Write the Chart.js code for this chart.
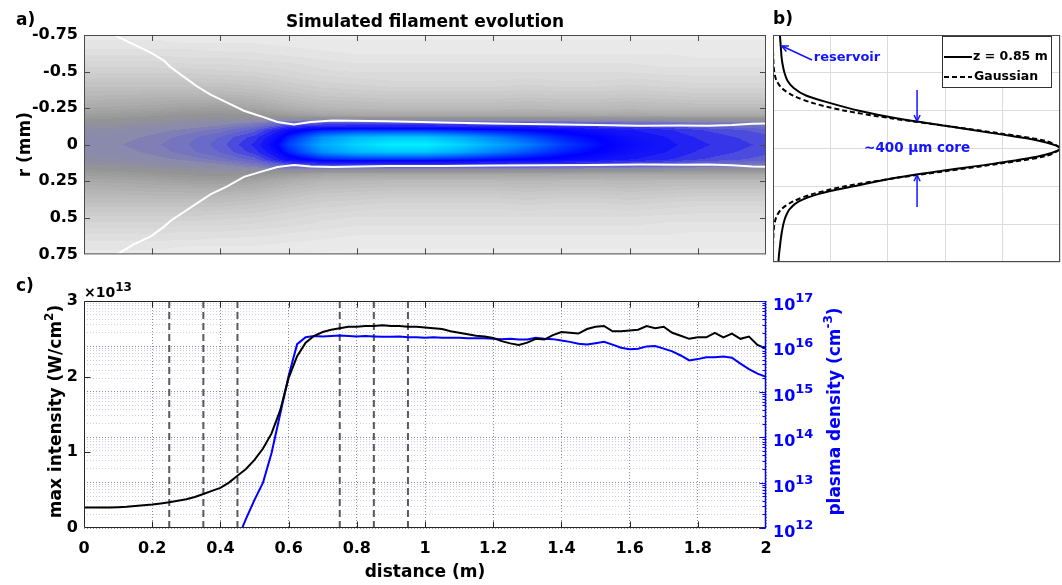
<!DOCTYPE html>
<html>
<head>
<meta charset="utf-8">
<title>Simulated filament evolution</title>
<script src="https://cdn.jsdelivr.net/npm/chart.js@4.4.1/dist/chart.umd.min.js"></script>
<style>
  html, body { margin: 0; padding: 0; background: #fff; }
  #wrap { position: relative; width: 1062px; height: 585px; overflow: hidden; }
  #wrap canvas { position: absolute; }
</style>
</head>
<body>
<div id="wrap">
  <canvas id="mapChart" width="770" height="270" style="left:0px;top:0px"></canvas>
  <canvas id="profileChart" width="292" height="270" style="left:770px;top:0px"></canvas>
  <canvas id="axisChart" width="1062" height="315" style="left:0px;top:270px"></canvas>
</div>
<script>
const FONT = "'DejaVu Sans', sans-serif";

// ---------- a) fluence map: rows are |r| (mm), columns are z (m) ----------
const mapZ = [0, 0.1, 0.2, 0.3, 0.4, 0.5, 0.6, 0.7, 0.8, 0.9, 1.0, 1.1, 1.2, 1.3, 1.4, 1.5, 1.6, 1.7, 1.8, 1.9, 2.0];
const mapR = [0, 0.05, 0.1, 0.15, 0.2, 0.25, 0.3, 0.35, 0.4, 0.45, 0.5, 0.55, 0.6, 0.65, 0.7, 0.75];
const mapLevel = [
  [0.60, 0.61, 0.63, 0.66, 0.70, 0.77, 0.88, 0.95, 0.98, 1.00, 1.00, 0.98, 0.95, 0.92, 0.88, 0.85, 0.82, 0.80, 0.77, 0.75, 0.73],
  [0.59, 0.60, 0.62, 0.65, 0.69, 0.75, 0.86, 0.93, 0.96, 0.97, 0.97, 0.95, 0.92, 0.89, 0.86, 0.84, 0.81, 0.79, 0.76, 0.74, 0.72],
  [0.57, 0.58, 0.60, 0.62, 0.65, 0.70, 0.82, 0.86, 0.87, 0.87, 0.87, 0.86, 0.85, 0.84, 0.83, 0.81, 0.79, 0.77, 0.74, 0.72, 0.70],
  [0.52, 0.53, 0.55, 0.57, 0.59, 0.62, 0.68, 0.70, 0.70, 0.70, 0.70, 0.70, 0.70, 0.70, 0.69, 0.68, 0.67, 0.66, 0.64, 0.63, 0.62],
  [0.45, 0.46, 0.48, 0.50, 0.51, 0.50, 0.46, 0.42, 0.41, 0.41, 0.41, 0.41, 0.41, 0.41, 0.41, 0.40, 0.40, 0.40, 0.40, 0.40, 0.40],
  [0.39, 0.40, 0.41, 0.43, 0.44, 0.41, 0.36, 0.32, 0.31, 0.30, 0.30, 0.30, 0.30, 0.31, 0.30, 0.30, 0.31, 0.30, 0.30, 0.30, 0.30],
  [0.34, 0.35, 0.36, 0.37, 0.37, 0.35, 0.30, 0.27, 0.26, 0.25, 0.25, 0.25, 0.25, 0.26, 0.25, 0.25, 0.26, 0.25, 0.24, 0.24, 0.24],
  [0.30, 0.30, 0.31, 0.31, 0.31, 0.29, 0.25, 0.22, 0.21, 0.20, 0.20, 0.20, 0.20, 0.21, 0.20, 0.20, 0.21, 0.20, 0.19, 0.19, 0.19],
  [0.26, 0.26, 0.26, 0.26, 0.26, 0.24, 0.21, 0.18, 0.17, 0.16, 0.16, 0.16, 0.16, 0.17, 0.16, 0.16, 0.17, 0.16, 0.15, 0.15, 0.15],
  [0.22, 0.22, 0.22, 0.22, 0.21, 0.20, 0.17, 0.15, 0.14, 0.13, 0.13, 0.13, 0.13, 0.14, 0.13, 0.13, 0.14, 0.13, 0.12, 0.12, 0.12],
  [0.18, 0.18, 0.18, 0.18, 0.17, 0.16, 0.14, 0.12, 0.11, 0.11, 0.11, 0.11, 0.11, 0.11, 0.11, 0.11, 0.11, 0.10, 0.10, 0.10, 0.10],
  [0.15, 0.15, 0.15, 0.14, 0.14, 0.13, 0.12, 0.10, 0.09, 0.09, 0.09, 0.09, 0.09, 0.09, 0.09, 0.09, 0.09, 0.08, 0.08, 0.08, 0.08],
  [0.12, 0.12, 0.12, 0.11, 0.11, 0.10, 0.09, 0.08, 0.07, 0.07, 0.07, 0.07, 0.07, 0.07, 0.07, 0.07, 0.07, 0.07, 0.06, 0.06, 0.06],
  [0.09, 0.09, 0.09, 0.09, 0.08, 0.08, 0.07, 0.06, 0.05, 0.05, 0.05, 0.05, 0.05, 0.05, 0.05, 0.05, 0.05, 0.05, 0.05, 0.05, 0.05],
  [0.07, 0.07, 0.07, 0.06, 0.06, 0.06, 0.05, 0.05, 0.04, 0.04, 0.04, 0.04, 0.04, 0.04, 0.04, 0.04, 0.04, 0.04, 0.04, 0.04, 0.04],
  [0.05, 0.05, 0.05, 0.05, 0.04, 0.04, 0.04, 0.03, 0.03, 0.03, 0.03, 0.03, 0.03, 0.03, 0.03, 0.03, 0.03, 0.03, 0.03, 0.03, 0.03]
];

// beam edge (white contour)
const edgeZ = [0.07, 0.098, 0.147, 0.196, 0.235, 0.254, 0.293, 0.332, 0.371, 0.42, 0.469, 0.518, 0.567, 0.616, 0.665, 0.73, 0.89, 1.05, 1.2, 1.35, 1.5, 1.63, 1.75, 1.83, 1.9, 1.96, 2.0];
const edgeTopR = [-0.79, -0.739, -0.684, -0.629, -0.574, -0.53, -0.464, -0.398, -0.343, -0.287, -0.232, -0.195, -0.155, -0.138, -0.155, -0.166, -0.16, -0.152, -0.145, -0.14, -0.135, -0.129, -0.132, -0.13, -0.135, -0.144, -0.145];
const edgeBottomR = [0.79, 0.748, 0.68, 0.627, 0.56, 0.52, 0.46, 0.4, 0.34, 0.285, 0.22, 0.186, 0.153, 0.138, 0.149, 0.153, 0.145, 0.145, 0.143, 0.14, 0.138, 0.135, 0.137, 0.135, 0.14, 0.149, 0.15];

const rTicks = [-0.75, -0.5, -0.25, 0, 0.25, 0.5, 0.75];
const distanceTicks = [0, 0.2, 0.4, 0.6, 0.8, 1, 1.2, 1.4, 1.6, 1.8, 2];

// ---------- b) radial profile at z = 0.85 m ----------
const profileR = [-0.75, -0.7, -0.65, -0.6, -0.55, -0.5, -0.45, -0.4, -0.35, -0.3, -0.25, -0.2, -0.15, -0.1, -0.05, 0,
                  0.05, 0.1, 0.15, 0.2, 0.25, 0.3, 0.35, 0.4, 0.45, 0.5, 0.55, 0.6, 0.65, 0.7, 0.75];
const profileSim = [0.024, 0.026, 0.028, 0.03, 0.034, 0.04, 0.05, 0.072, 0.115, 0.2, 0.3, 0.43, 0.6, 0.77, 0.93, 1.0,
                    0.93, 0.77, 0.58, 0.41, 0.28, 0.16, 0.09, 0.058, 0.044, 0.036, 0.031, 0.027, 0.024, 0.021, 0.019];
const profileGauss = [0, 0, 0, 0.001, 0.002, 0.005, 0.012, 0.03, 0.07, 0.14, 0.25, 0.41, 0.6, 0.79, 0.95, 1.0,
                      0.95, 0.79, 0.6, 0.41, 0.25, 0.14, 0.07, 0.03, 0.012, 0.005, 0.002, 0.001, 0, 0, 0];
const coreEdgeR = [-0.18, 0.175];

// ---------- c) peak intensity and plasma density along z ----------
const distance = [
  0, 0.025, 0.05, 0.075, 0.1, 0.125, 0.15, 0.175, 0.2, 0.225, 0.25, 0.275, 0.3, 0.325, 0.35, 0.375, 0.4, 0.425, 0.45, 0.475,
  0.5, 0.525, 0.55, 0.575, 0.6, 0.625, 0.65, 0.675, 0.7, 0.725, 0.75, 0.775, 0.8, 0.825, 0.85, 0.875, 0.9, 0.925, 0.95, 0.975,
  1, 1.025, 1.05, 1.075, 1.1, 1.125, 1.15, 1.175, 1.2, 1.225, 1.25, 1.275, 1.3, 1.325, 1.35, 1.375, 1.4, 1.425, 1.45, 1.475,
  1.5, 1.525, 1.55, 1.575, 1.6, 1.625, 1.65, 1.675, 1.7, 1.725, 1.75, 1.775, 1.8, 1.825, 1.85, 1.875, 1.9, 1.925, 1.95, 1.975, 2
];
// units of 1e13 W/cm^2
const maxIntensity = [
  0.27, 0.27, 0.27, 0.27, 0.275, 0.28, 0.29, 0.30, 0.31, 0.325, 0.34, 0.36, 0.38, 0.41, 0.45, 0.49, 0.53, 0.60, 0.69, 0.78,
  0.90, 1.05, 1.25, 1.55, 1.98, 2.27, 2.45, 2.54, 2.59, 2.62, 2.64, 2.66, 2.66, 2.67, 2.67, 2.68, 2.67, 2.67, 2.66, 2.66,
  2.65, 2.64, 2.63, 2.60, 2.58, 2.56, 2.54, 2.53, 2.51, 2.47, 2.44, 2.42, 2.45, 2.50, 2.49, 2.55, 2.59, 2.58, 2.57, 2.63,
  2.66, 2.67, 2.60, 2.60, 2.61, 2.62, 2.67, 2.64, 2.66, 2.58, 2.54, 2.50, 2.52, 2.52, 2.58, 2.52, 2.57, 2.50, 2.53, 2.42, 2.37
];
// log10 of density in cm^-3
const densityExp = [
  null, null, null, null, null, null, null, null, null, null, null, null, null, null, null, null, null, null, 11.75, 12.2,
  12.62, 13.0, 13.65, 14.5, 15.35, 16.05, 16.2, 16.23, 16.22, 16.23, 16.24, 16.23, 16.22, 16.23, 16.22, 16.21, 16.21, 16.22, 16.2, 16.2,
  16.19, 16.2, 16.19, 16.19, 16.19, 16.18, 16.18, 16.18, 16.17, 16.16, 16.17, 16.15, 16.15, 16.19, 16.17, 16.16, 16.13, 16.1, 16.06, 16.04,
  16.07, 16.1, 16.04, 15.97, 15.94, 15.95, 16.0, 16.01, 15.95, 15.89, 15.8, 15.69, 15.72, 15.76, 15.76, 15.78, 15.75, 15.62, 15.5, 15.4, 15.33
];
const markerZ = [0.25, 0.35, 0.45, 0.75, 0.85, 0.95];
const intensityTicks = [0, 1, 2, 3];
const densityDecades = [12, 13, 14, 15, 16, 17];

// colour scale of the map: level -> rgb
const levelStops = [
  [0.00, 242, 242, 242],
  [0.50, 148, 148, 148],
  [0.60, 138, 138, 172],
  [0.70, 95, 95, 210],
  [0.78, 30, 30, 245],
  [0.84, 0, 0, 255],
  [0.92, 0, 130, 255],
  [1.00, 0, 240, 255]
];

Chart.defaults.font.family = FONT;
Chart.defaults.font.weight = "bold";
Chart.defaults.color = "#000";
Chart.defaults.animation = false;
Chart.defaults.plugins.legend.display = false;
Chart.defaults.plugins.tooltip.enabled = false;

function bracket(arr, v) {
  const n = arr.length - 1;
  if (v <= arr[0]) return [0, 0];
  if (v >= arr[n]) return [n - 1, 1];
  let i = 0;
  while (arr[i + 1] < v) i++;
  return [i, (v - arr[i]) / (arr[i + 1] - arr[i])];
}

function sampleLevel(z, r) {
  const [i, fz] = bracket(mapZ, z);
  const [j, fr] = bracket(mapR, r);
  const a = mapLevel[j][i] * (1 - fz) + mapLevel[j][i + 1] * fz;
  const b = mapLevel[j + 1][i] * (1 - fz) + mapLevel[j + 1][i + 1] * fz;
  return a * (1 - fr) + b * fr;
}

function levelColor(v) {
  // contour-like banding in the grey part, smooth in the core
  if (v < 0.8) v = Math.round(v / 0.025) * 0.025;
  for (let k = 1; k < levelStops.length; k++) {
    const s0 = levelStops[k - 1], s1 = levelStops[k];
    if (v <= s1[0] || k === levelStops.length - 1) {
      const t = Math.max(0, Math.min(1, (v - s0[0]) / (s1[0] - s0[0])));
      return [s0[1] + (s1[1] - s0[1]) * t, s0[2] + (s1[2] - s0[2]) * t, s0[3] + (s1[3] - s0[3]) * t];
    }
  }
  return [242, 242, 242];
}

function seg(ctx, x1, y1, x2, y2) {
  ctx.beginPath();
  ctx.moveTo(x1, y1);
  ctx.lineTo(x2, y2);
  ctx.stroke();
}

// text with superscript parts: parts = [[text, isSup], ...]
function richText(ctx, x, y, parts, size, supSize, raise, align, color, vertical) {
  ctx.save();
  ctx.translate(x, y);
  if (vertical) ctx.rotate(-Math.PI / 2);
  ctx.fillStyle = color;
  ctx.textBaseline = "alphabetic";
  ctx.textAlign = "left";
  let total = 0;
  const widths = parts.map(([t, sup]) => {
    ctx.font = "bold " + (sup ? supSize : size) + "px " + FONT;
    const w = ctx.measureText(t).width;
    total += w;
    return w;
  });
  let cx = align === "center" ? -total / 2 : 0;
  parts.forEach(([t, sup], i) => {
    ctx.font = "bold " + (sup ? supSize : size) + "px " + FONT;
    ctx.fillText(t, cx, sup ? -raise : 0);
    cx += widths[i];
  });
  ctx.restore();
}

function arrow(ctx, x1, y1, x2, y2, head) {
  seg(ctx, x1, y1, x2, y2);
  const ang = Math.atan2(y2 - y1, x2 - x1);
  [-0.45, 0.45].forEach(d => {
    seg(ctx, x2, y2, x2 - head * Math.cos(ang + d), y2 - head * Math.sin(ang + d));
  });
}

// ---------- a) map ----------
const fieldPlugin = {
  id: "field",
  beforeDatasetsDraw(chart) {
    const { ctx, chartArea: a, scales } = chart;
    const left = Math.round(a.left), top = Math.round(a.top);
    const w = Math.round(a.right) - left, h = Math.round(a.bottom) - top;
    const img = ctx.createImageData(w, h);
    for (let py = 0; py < h; py++) {
      const r = Math.abs(scales.y.getValueForPixel(top + py + 0.5));
      for (let px = 0; px < w; px++) {
        const z = scales.x.getValueForPixel(left + px + 0.5);
        const c = levelColor(sampleLevel(z, r));
        const k = (py * w + px) * 4;
        img.data[k] = c[0];
        img.data[k + 1] = c[1];
        img.data[k + 2] = c[2];
        img.data[k + 3] = 255;
      }
    }
    ctx.putImageData(img, left, top);
  }
};

const mapFrame = {
  id: "mapFrame",
  afterDatasetsDraw(chart) {
    const { ctx, chartArea: a, scales: { x, y } } = chart;
    ctx.save();
    ctx.strokeStyle = "#4a4a4a";
    ctx.lineWidth = 1;
    ctx.strokeRect(a.left + 0.5, a.top + 0.5, a.right - a.left - 1, a.bottom - a.top - 1);
    distanceTicks.slice(1, -1).forEach(v => {
      const px = Math.round(x.getPixelForValue(v)) + 0.5;
      seg(ctx, px, a.top, px, a.top + 6);
      seg(ctx, px, a.bottom, px, a.bottom - 6);
    });
    rTicks.slice(1, -1).forEach(v => {
      const py = Math.round(y.getPixelForValue(v)) + 0.5;
      seg(ctx, a.left, py, a.left + 6, py);
      seg(ctx, a.right, py, a.right - 6, py);
    });
    ctx.restore();
  },
  afterDraw(chart) {
    const { ctx, chartArea: a } = chart;
    richText(ctx, (a.left + a.right) / 2, 27, [["Simulated filament evolution", false]], 17, 12, 0, "center", "#000", false);
    richText(ctx, 16, 25, [["a)", false]], 17, 12, 0, "left", "#000", false);
    richText(ctx, 30, (a.top + a.bottom) / 2, [["r (mm)", false]], 17, 12, 0, "center", "#000", true);
  }
};

new Chart(document.getElementById("mapChart"), {
  type: "scatter",
  data: {
    datasets: [
      { data: edgeZ.map((z, i) => ({ x: z, y: edgeTopR[i] })) },
      { data: edgeZ.map((z, i) => ({ x: z, y: edgeBottomR[i] })) }
    ].map(d => Object.assign(d, { showLine: true, borderColor: "#ffffff", borderWidth: 2, pointRadius: 0, clip: 0 }))
  },
  options: {
    responsive: false,
    layout: { padding: { left: 0, right: 4, top: 35, bottom: 8 } },
    scales: {
      x: { type: "linear", min: 0, max: 2, display: false },
      y: {
        type: "linear", reverse: true, min: -0.75, max: 0.75,
        afterBuildTicks: s => { s.ticks = rTicks.map(v => ({ value: v })); },
        afterFit: s => { s.width = 84; },
        grid: { display: false, drawTicks: false },
        border: { display: false },
        ticks: { padding: 6, font: { size: 16 }, color: "#000", callback: v => String(v), autoSkip: false }
      }
    }
  },
  plugins: [fieldPlugin, mapFrame]
});

// ---------- b) profile ----------
const profileDecor = {
  id: "profileDecor",
  afterDatasetsDraw(chart) {
    const { ctx, chartArea: a, scales: { x, y } } = chart;
    ctx.save();
    ctx.strokeStyle = "#4a4a4a";
    ctx.lineWidth = 1;
    ctx.strokeRect(a.left + 0.5, a.top + 0.5, a.right - a.left - 1, a.bottom - a.top - 1);

    // legend
    const lx = a.right - 118, ly = a.top + 1, lw = 109, lh = 51;
    ctx.fillStyle = "#fff";
    ctx.fillRect(lx, ly, lw, lh);
    ctx.strokeStyle = "#333";
    ctx.strokeRect(lx + 0.5, ly + 0.5, lw, lh);
    ctx.strokeStyle = "#000";
    ctx.lineWidth = 2;
    seg(ctx, lx + 2, ly + 21, lx + 30, ly + 21);
    ctx.setLineDash([5, 3]);
    seg(ctx, lx + 2, ly + 41, lx + 30, ly + 41);
    ctx.setLineDash([]);
    ctx.fillStyle = "#000";
    ctx.font = "bold 12.5px " + FONT;
    ctx.textBaseline = "middle";
    ctx.textAlign = "left";
    ctx.fillText("z = 0.85 m", lx + 31, ly + 21);
    ctx.fillText("Gaussian", lx + 32, ly + 41);

    // annotations
    ctx.strokeStyle = "#1414ff";
    ctx.fillStyle = "#1414ff";
    ctx.lineWidth = 1.5;
    arrow(ctx, x.getPixelForValue(0.136), y.getPixelForValue(-0.585), x.getPixelForValue(0.031), y.getPixelForValue(-0.677), 7);
    arrow(ctx, x.getPixelForValue(0.502), y.getPixelForValue(-0.386), x.getPixelForValue(0.502), y.getPixelForValue(coreEdgeR[0]), 7);
    arrow(ctx, x.getPixelForValue(0.502), y.getPixelForValue(0.387), x.getPixelForValue(0.502), y.getPixelForValue(coreEdgeR[1]), 7);
    ctx.font = "bold 13px " + FONT;
    ctx.textBaseline = "middle";
    ctx.fillText("reservoir", x.getPixelForValue(0.142), y.getPixelForValue(-0.6));
    ctx.textAlign = "center";
    ctx.font = "bold 13.5px " + FONT;
    ctx.fillText("~400 µm core", x.getPixelForValue(0.502), y.getPixelForValue(0));
    ctx.restore();
  },
  afterDraw(chart) {
    richText(chart.ctx, 3, 24, [["b)", false]], 17, 12, 0, "left", "#000", false);
  }
};

new Chart(document.getElementById("profileChart"), {
  type: "scatter",
  data: {
    datasets: [
      { label: "z = 0.85 m", data: profileR.map((r, i) => ({ x: profileSim[i], y: r })), borderDash: [] },
      { label: "Gaussian", data: profileR.map((r, i) => ({ x: profileGauss[i], y: r })), borderDash: [5, 3] }
    ].map(d => Object.assign(d, { showLine: true, borderColor: "#000", borderWidth: 2, pointRadius: 0, tension: 0.3, clip: 0 }))
  },
  options: {
    responsive: false,
    layout: { padding: { left: 3, right: 2, top: 35, bottom: 8 } },
    scales: {
      x: {
        type: "linear", min: 0, max: 1,
        ticks: { display: false, stepSize: 0.2 },
        grid: { color: "#dcdcdc", drawTicks: false },
        border: { display: false },
        afterFit: s => { s.height = 0; }
      },
      y: {
        type: "linear", reverse: true, min: -0.75, max: 0.75,
        afterBuildTicks: s => { s.ticks = rTicks.map(v => ({ value: v })); },
        ticks: { display: false },
        grid: { color: "#dcdcdc", drawTicks: false },
        border: { display: false },
        afterFit: s => { s.width = 0; }
      }
    }
  },
  plugins: [profileDecor]
});

// ---------- c) intensity and density ----------
const densityGrid = [];
densityDecades.slice(0, -1).forEach(k => {
  for (let m = 1; m <= 9; m++) densityGrid.push(m * Math.pow(10, k));
});
densityGrid.push(Math.pow(10, densityDecades[densityDecades.length - 1]));
const isDecade = v => Math.abs(Math.log10(v) - Math.round(Math.log10(v))) < 1e-6;

const axisDecor = {
  id: "axisDecor",
  afterDatasetsDraw(chart) {
    const { ctx, chartArea: a, scales: { x, y, yDensity } } = chart;
    ctx.save();
    ctx.lineWidth = 1;
    ctx.strokeStyle = "#262626";
    const L = a.left + 0.5, R = Math.round(a.right) - 0.5, T = a.top + 0.5, B = Math.round(a.bottom) - 0.5;
    seg(ctx, L, T, R, T);
    seg(ctx, L, B, R, B);
    seg(ctx, L, T, L, B);
    distanceTicks.slice(1, -1).forEach(v => {
      const px = Math.round(x.getPixelForValue(v)) + 0.5;
      seg(ctx, px, T, px, T + 6);
      seg(ctx, px, B, px, B - 6);
    });
    intensityTicks.slice(1, -1).forEach(v => {
      const py = Math.round(y.getPixelForValue(v)) + 0.5;
      seg(ctx, L, py, L + 6, py);
    });
    ctx.strokeStyle = "#0000ff";
    densityGrid.forEach(v => {
      const py = Math.round(yDensity.getPixelForValue(v)) + 0.5;
      seg(ctx, R, py, R - (isDecade(v) ? 6 : 3), py);
    });
    ctx.lineWidth = 1.5;
    seg(ctx, R, a.top, R, a.bottom);
    ctx.restore();
  },
  afterDraw(chart) {
    const { ctx, chartArea: a, scales: { yDensity } } = chart;
    const mid = (a.top + a.bottom) / 2;
    densityDecades.forEach(k => {
      const py = yDensity.getPixelForValue(Math.pow(10, k));
      richText(ctx, a.right + 7, py + 9, [["10", false], [String(k), true]], 16, 13, 8, "left", "#0000ff", false);
    });
    richText(ctx, 16, 21, [["c)", false]], 17, 12, 0, "left", "#000", false);
    richText(ctx, 84, 27, [["×10", false], ["13", true]], 14, 12, 6, "left", "#000", false);
    richText(ctx, 61, mid - 3, [["max intensity (W/cm", false], ["2", true], [")", false]], 17, 12, 8, "center", "#000", true);
    richText(ctx, a.right + 74, mid - 3, [["plasma density (cm", false], ["-3", true], [")", false]], 17, 12, 8, "center", "#0000ff", true);
    richText(ctx, (a.left + a.right) / 2, 307, [["distance (m)", false]], 17, 12, 0, "center", "#000", false);
  }
};

const markerSets = markerZ.map(z => ({
  data: [{ x: z, y: 0 }, { x: z, y: 3 }],
  yAxisID: "y",
  showLine: true,
  borderColor: "#5a5a5a",
  borderWidth: 2,
  borderDash: [7, 4],
  pointRadius: 0,
  clip: 0
}));

new Chart(document.getElementById("axisChart"), {
  type: "scatter",
  data: {
    datasets: [
      {
        label: "max intensity",
        data: distance.map((z, i) => ({ x: z, y: maxIntensity[i] })),
        yAxisID: "y", showLine: true, borderColor: "#000", borderWidth: 2, pointRadius: 0, clip: 0
      },
      {
        label: "plasma density",
        data: distance.map((z, i) => densityExp[i] === null ? null : { x: z, y: Math.pow(10, densityExp[i]) }).filter(p => p),
        yAxisID: "yDensity", showLine: true, borderColor: "#0000ff", borderWidth: 2, pointRadius: 0, clip: 0
      },
      ...markerSets
    ]
  },
  options: {
    responsive: false,
    layout: { padding: { left: 0, right: 0, top: 31, bottom: 0 } },
    scales: {
      x: {
        type: "linear", min: 0, max: 2,
        afterBuildTicks: s => { s.ticks = distanceTicks.map(v => ({ value: v })); },
        afterFit: s => { s.height = 57; },
        grid: { color: "#8c8c8c", drawTicks: false },
        border: { display: false, dash: [1, 2] },
        ticks: { padding: 11, font: { size: 16 }, color: "#000", maxRotation: 0, autoSkip: false, callback: v => String(v) }
      },
      y: {
        type: "linear", position: "left", min: 0, max: 3,
        afterBuildTicks: s => { s.ticks = intensityTicks.map(v => ({ value: v })); },
        afterFit: s => { s.width = 84; },
        grid: { display: false, drawTicks: false },
        border: { display: false },
        ticks: { padding: 6, font: { size: 16 }, color: "#000", callback: v => String(v) }
      },
      yDensity: {
        type: "logarithmic", position: "right", min: 1e12, max: 1e17,
        afterBuildTicks: s => { s.ticks = densityGrid.map(v => ({ value: v })); },
        afterFit: s => { s.width = 296; },
        grid: { color: c => isDecade(c.tick.value) ? "#8c8c8c" : "#ccccf0", drawTicks: false },
        border: { display: false, dash: [1, 2] },
        ticks: { display: false }
      }
    }
  },
  plugins: [axisDecor]
});
</script>
</body>
</html>
